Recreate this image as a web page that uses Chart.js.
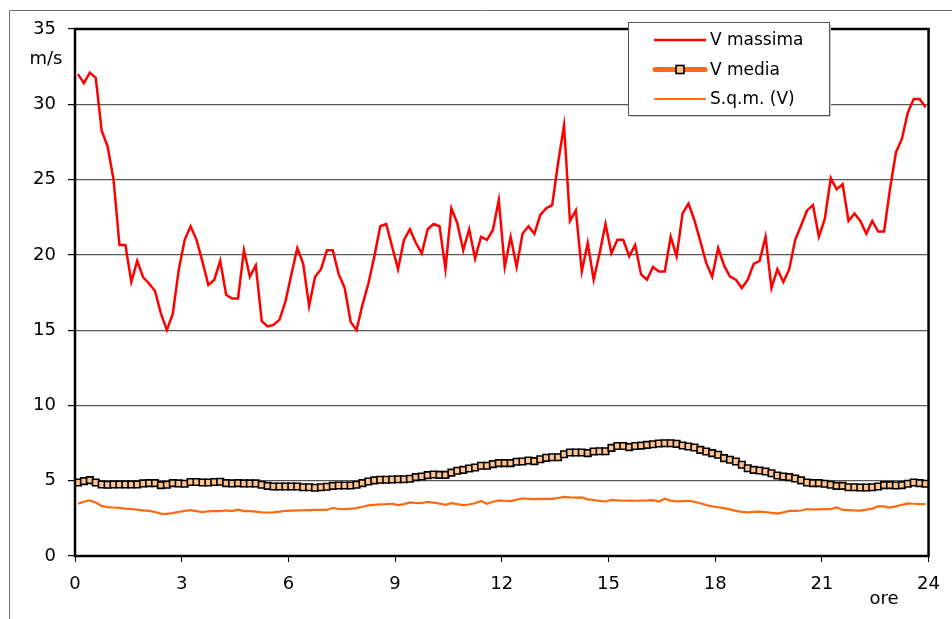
<!DOCTYPE html>
<html lang="it">
<head>
<meta charset="utf-8">
<title>Velocità del vento - andamento giornaliero</title>
<script src="https://cdn.jsdelivr.net/npm/chart.js@4/dist/chart.umd.min.js"></script>
<style>
  html, body { margin: 0; padding: 0; background: #fff; }
  #wrap { position: relative; width: 952px; height: 619px; }
</style>
</head>
<body>
<div id="wrap"><canvas id="chart" width="952" height="619"></canvas></div>
<script>
// intervalli di 10 minuti, 144 per giornata
const SLOTS_PER_HOUR = 6;

const xTicks = [0, 3, 6, 9, 12, 15, 18, 21, 24];
const yTicks = [0, 5, 10, 15, 20, 25, 30, 35];

const vMassima = [
  32.0, 31.4, 32.1, 31.75, 28.25, 27.2, 25.0, 20.66, 20.66, 18.2,
  19.6, 18.5, 18.1, 17.6, 16.1, 15.0, 16.1, 19.0, 21.0, 21.9,
  21.0, 19.55, 18.0, 18.35, 19.6, 17.35, 17.1, 17.1, 20.3, 18.55,
  19.3, 15.6, 15.25, 15.35, 15.7, 16.9, 18.7, 20.45, 19.4, 16.6,
  18.55, 19.05, 20.3, 20.3, 18.7, 17.8, 15.55, 15.0, 16.7, 18.1,
  19.9, 21.9, 22.05, 20.55, 19.05, 21.0, 21.7, 20.8, 20.1, 21.7,
  22.05, 21.9, 19.05, 23.1, 22.1, 20.3, 21.7, 19.75, 21.2, 21.0,
  21.65, 23.65, 19.2, 21.2, 19.2, 21.4, 21.9, 21.4, 22.65, 23.1,
  23.3, 26.1, 28.6, 22.25, 22.95, 18.9, 20.8, 18.35, 20.1, 22.05,
  20.1, 21.0, 21.0, 19.9, 20.66, 18.7, 18.35, 19.2, 18.9, 18.9,
  21.2, 19.9, 22.75, 23.4, 22.3, 20.9, 19.45, 18.55, 20.45, 19.3,
  18.55, 18.35, 17.8, 18.35, 19.4, 19.6, 21.2, 17.8, 19.05, 18.2,
  19.05, 21.0, 21.95, 22.95, 23.3, 21.2, 22.4, 25.1, 24.35, 24.7,
  22.25, 22.75, 22.25, 21.4, 22.25, 21.55, 21.55, 24.4, 26.8, 27.7,
  29.45, 30.35, 30.35, 29.8
];

const vMedia = [
  4.88, 4.97, 5.04, 4.88, 4.75, 4.73, 4.75, 4.75, 4.75, 4.75,
  4.75, 4.82, 4.84, 4.84, 4.71, 4.73, 4.84, 4.82, 4.8, 4.91,
  4.91, 4.88, 4.88, 4.91, 4.93, 4.84, 4.82, 4.84, 4.82, 4.82,
  4.82, 4.73, 4.66, 4.62, 4.62, 4.62, 4.62, 4.62, 4.57, 4.57,
  4.53, 4.57, 4.6, 4.66, 4.68, 4.68, 4.68, 4.73, 4.84, 4.95,
  5.02, 5.06, 5.06, 5.08, 5.1, 5.1, 5.13, 5.24, 5.28, 5.37,
  5.41, 5.39, 5.39, 5.54, 5.66, 5.72, 5.81, 5.88, 5.99, 5.99,
  6.1, 6.17, 6.17, 6.17, 6.26, 6.28, 6.34, 6.3, 6.43, 6.52,
  6.56, 6.56, 6.76, 6.87, 6.87, 6.87, 6.83, 6.94, 6.96, 6.96,
  7.18, 7.31, 7.31, 7.23, 7.31, 7.33, 7.38, 7.42, 7.47, 7.49,
  7.49, 7.45, 7.34, 7.27, 7.21, 7.05, 6.94, 6.83, 6.72, 6.5,
  6.39, 6.28, 6.06, 5.83, 5.72, 5.68, 5.61, 5.5, 5.35, 5.28,
  5.24, 5.15, 5.02, 4.88, 4.84, 4.84, 4.8, 4.73, 4.66, 4.66,
  4.57, 4.57, 4.55, 4.55, 4.57, 4.62, 4.71, 4.71, 4.68, 4.71,
  4.8, 4.88, 4.84, 4.8
];

const sqmV = [
  3.47, 3.6, 3.69, 3.55, 3.33, 3.25, 3.22, 3.2, 3.15, 3.12,
  3.08, 3.03, 3.0, 2.92, 2.82, 2.8, 2.85, 2.93, 3.0, 3.05,
  2.98, 2.92, 2.97, 3.0, 2.98, 3.03, 2.98, 3.08, 2.98, 2.98,
  2.95, 2.9, 2.89, 2.9, 2.95, 3.0, 3.02, 3.03, 3.04, 3.05,
  3.06, 3.06, 3.06, 3.2, 3.12, 3.11, 3.14, 3.18, 3.27, 3.36,
  3.4, 3.43, 3.44, 3.47, 3.38, 3.45, 3.56, 3.52, 3.51, 3.6,
  3.55, 3.48, 3.4, 3.51, 3.44, 3.38, 3.42, 3.5, 3.65, 3.47,
  3.6, 3.69, 3.67, 3.65, 3.74, 3.82, 3.8, 3.78, 3.79, 3.8,
  3.8, 3.85, 3.93, 3.9, 3.88, 3.89, 3.76, 3.72, 3.66, 3.62,
  3.73, 3.7, 3.67, 3.68, 3.67, 3.68, 3.69, 3.71, 3.62, 3.8,
  3.68, 3.62, 3.65, 3.67, 3.6, 3.5, 3.38, 3.3, 3.24, 3.18,
  3.1, 3.0, 2.93, 2.9, 2.93, 2.95, 2.92, 2.86, 2.82, 2.9,
  3.0, 3.0, 3.02, 3.12, 3.09, 3.1, 3.11, 3.11, 3.22, 3.06,
  3.05, 3.03, 3.02, 3.08, 3.15, 3.3, 3.3, 3.22, 3.3, 3.4,
  3.49, 3.47, 3.45, 3.44
];

// ogni valore al centro del suo intervallo di 10 minuti (come l'asse a categorie di Excel)
function toPoints(values) {
  return values.map(function (v, i) {
    return { x: (i + 0.5) / SLOTS_PER_HOUR, y: v };
  });
}

const FONT = 'DejaVu Sans, Verdana, sans-serif';

// cornice, etichette "m/s" e "ore", legenda disegnata a mano
const decorPlugin = {
  id: 'decor',
  afterDraw(chart) {
    const ctx = chart.ctx;
    const a = chart.chartArea;
    ctx.save();

    // bordo esterno del grafico
    ctx.strokeStyle = '#6e6e6e';
    ctx.lineWidth = 1;
    ctx.beginPath();
    ctx.moveTo(9.5, 619);
    ctx.lineTo(9.5, 10.5);
    ctx.lineTo(952, 10.5);
    ctx.stroke();

    // cornice dell'area del tracciato
    ctx.strokeStyle = '#000';
    ctx.lineWidth = 2.5;
    ctx.strokeRect(a.left, a.top, a.right - a.left, a.bottom - a.top);

    ctx.fillStyle = '#000';
    ctx.font = '18px ' + FONT;
    ctx.textAlign = 'center';
    ctx.textBaseline = 'middle';
    ctx.fillText('m/s', 46, 59);
    ctx.fillText('ore', 884, 599);

    // legenda
    const lx = 628, ly = 22, lw = 201, lh = 93;
    ctx.fillStyle = '#c8c8c8';
    ctx.fillRect(lx + 2, ly + 2, lw, lh);
    ctx.fillStyle = '#fff';
    ctx.fillRect(lx, ly, lw, lh);
    ctx.strokeStyle = '#555';
    ctx.lineWidth = 1;
    ctx.strokeRect(lx + 0.5, ly + 0.5, lw, lh);

    ctx.font = '17px ' + FONT;
    ctx.textAlign = 'left';
    chart.data.datasets.forEach(function (ds, i) {
      const y = 40 + i * 29.5;
      ctx.strokeStyle = ds.borderColor;
      ctx.lineWidth = ds.borderWidth;
      ctx.lineCap = 'round';
      ctx.beginPath();
      ctx.moveTo(655, y);
      ctx.lineTo(705, y);
      ctx.stroke();
      if (ds.pointRadius > 0) {
        ctx.fillStyle = ds.pointBackgroundColor;
        ctx.strokeStyle = ds.pointBorderColor;
        ctx.lineWidth = ds.pointBorderWidth;
        ctx.fillRect(676, y - 4, 8, 8);
        ctx.strokeRect(676, y - 4, 8, 8);
      }
      ctx.fillStyle = '#000';
      ctx.fillText(ds.label, 710, y + 1);
    });

    ctx.restore();
  }
};

new Chart(document.getElementById('chart'), {
  type: 'line',
  data: {
    datasets: [
      {
        label: 'V massima',
        data: toPoints(vMassima),
        borderColor: '#ff0000',
        borderWidth: 2.5,
        pointRadius: 0,
        tension: 0
      },
      {
        label: 'V media',
        data: toPoints(vMedia),
        borderColor: '#ff6a10',
        borderWidth: 5,
        pointStyle: 'rect',
        pointRadius: 4.6,
        pointBackgroundColor: '#ffc38e',
        pointBorderColor: '#000',
        pointBorderWidth: 1.6,
        tension: 0
      },
      {
        label: 'S.q.m. (V)',
        data: toPoints(sqmV),
        borderColor: '#ff6a10',
        borderWidth: 2.2,
        pointRadius: 0,
        tension: 0
      }
    ]
  },
  options: {
    responsive: false,
    animation: false,
    layout: { padding: { left: 10, top: 29, right: 22, bottom: 0 } },
    plugins: {
      legend: { display: false },
      tooltip: { enabled: false }
    },
    scales: {
      x: {
        type: 'linear',
        min: 0,
        max: 24,
        afterBuildTicks(scale) {
          scale.ticks = xTicks.map(function (v) { return { value: v }; });
        },
        afterFit(scale) { scale.height = 63; },
        border: { display: false },
        grid: { drawOnChartArea: false, drawTicks: true, tickLength: 6, tickColor: '#000', lineWidth: 1 },
        ticks: { color: '#000', font: { family: FONT, size: 18 }, padding: 12, maxRotation: 0 }
      },
      y: {
        min: 0,
        max: 35,
        afterBuildTicks(scale) {
          scale.ticks = yTicks.map(function (v) { return { value: v }; });
        },
        afterFit(scale) { scale.width = 65; },
        border: { display: false },
        grid: { color: '#5a5a5a', lineWidth: 1.2, drawTicks: true, tickLength: 7, tickColor: '#000' },
        ticks: { color: '#000', font: { family: FONT, size: 18 }, padding: 12 }
      }
    }
  },
  plugins: [decorPlugin]
});
</script>
</body>
</html>
